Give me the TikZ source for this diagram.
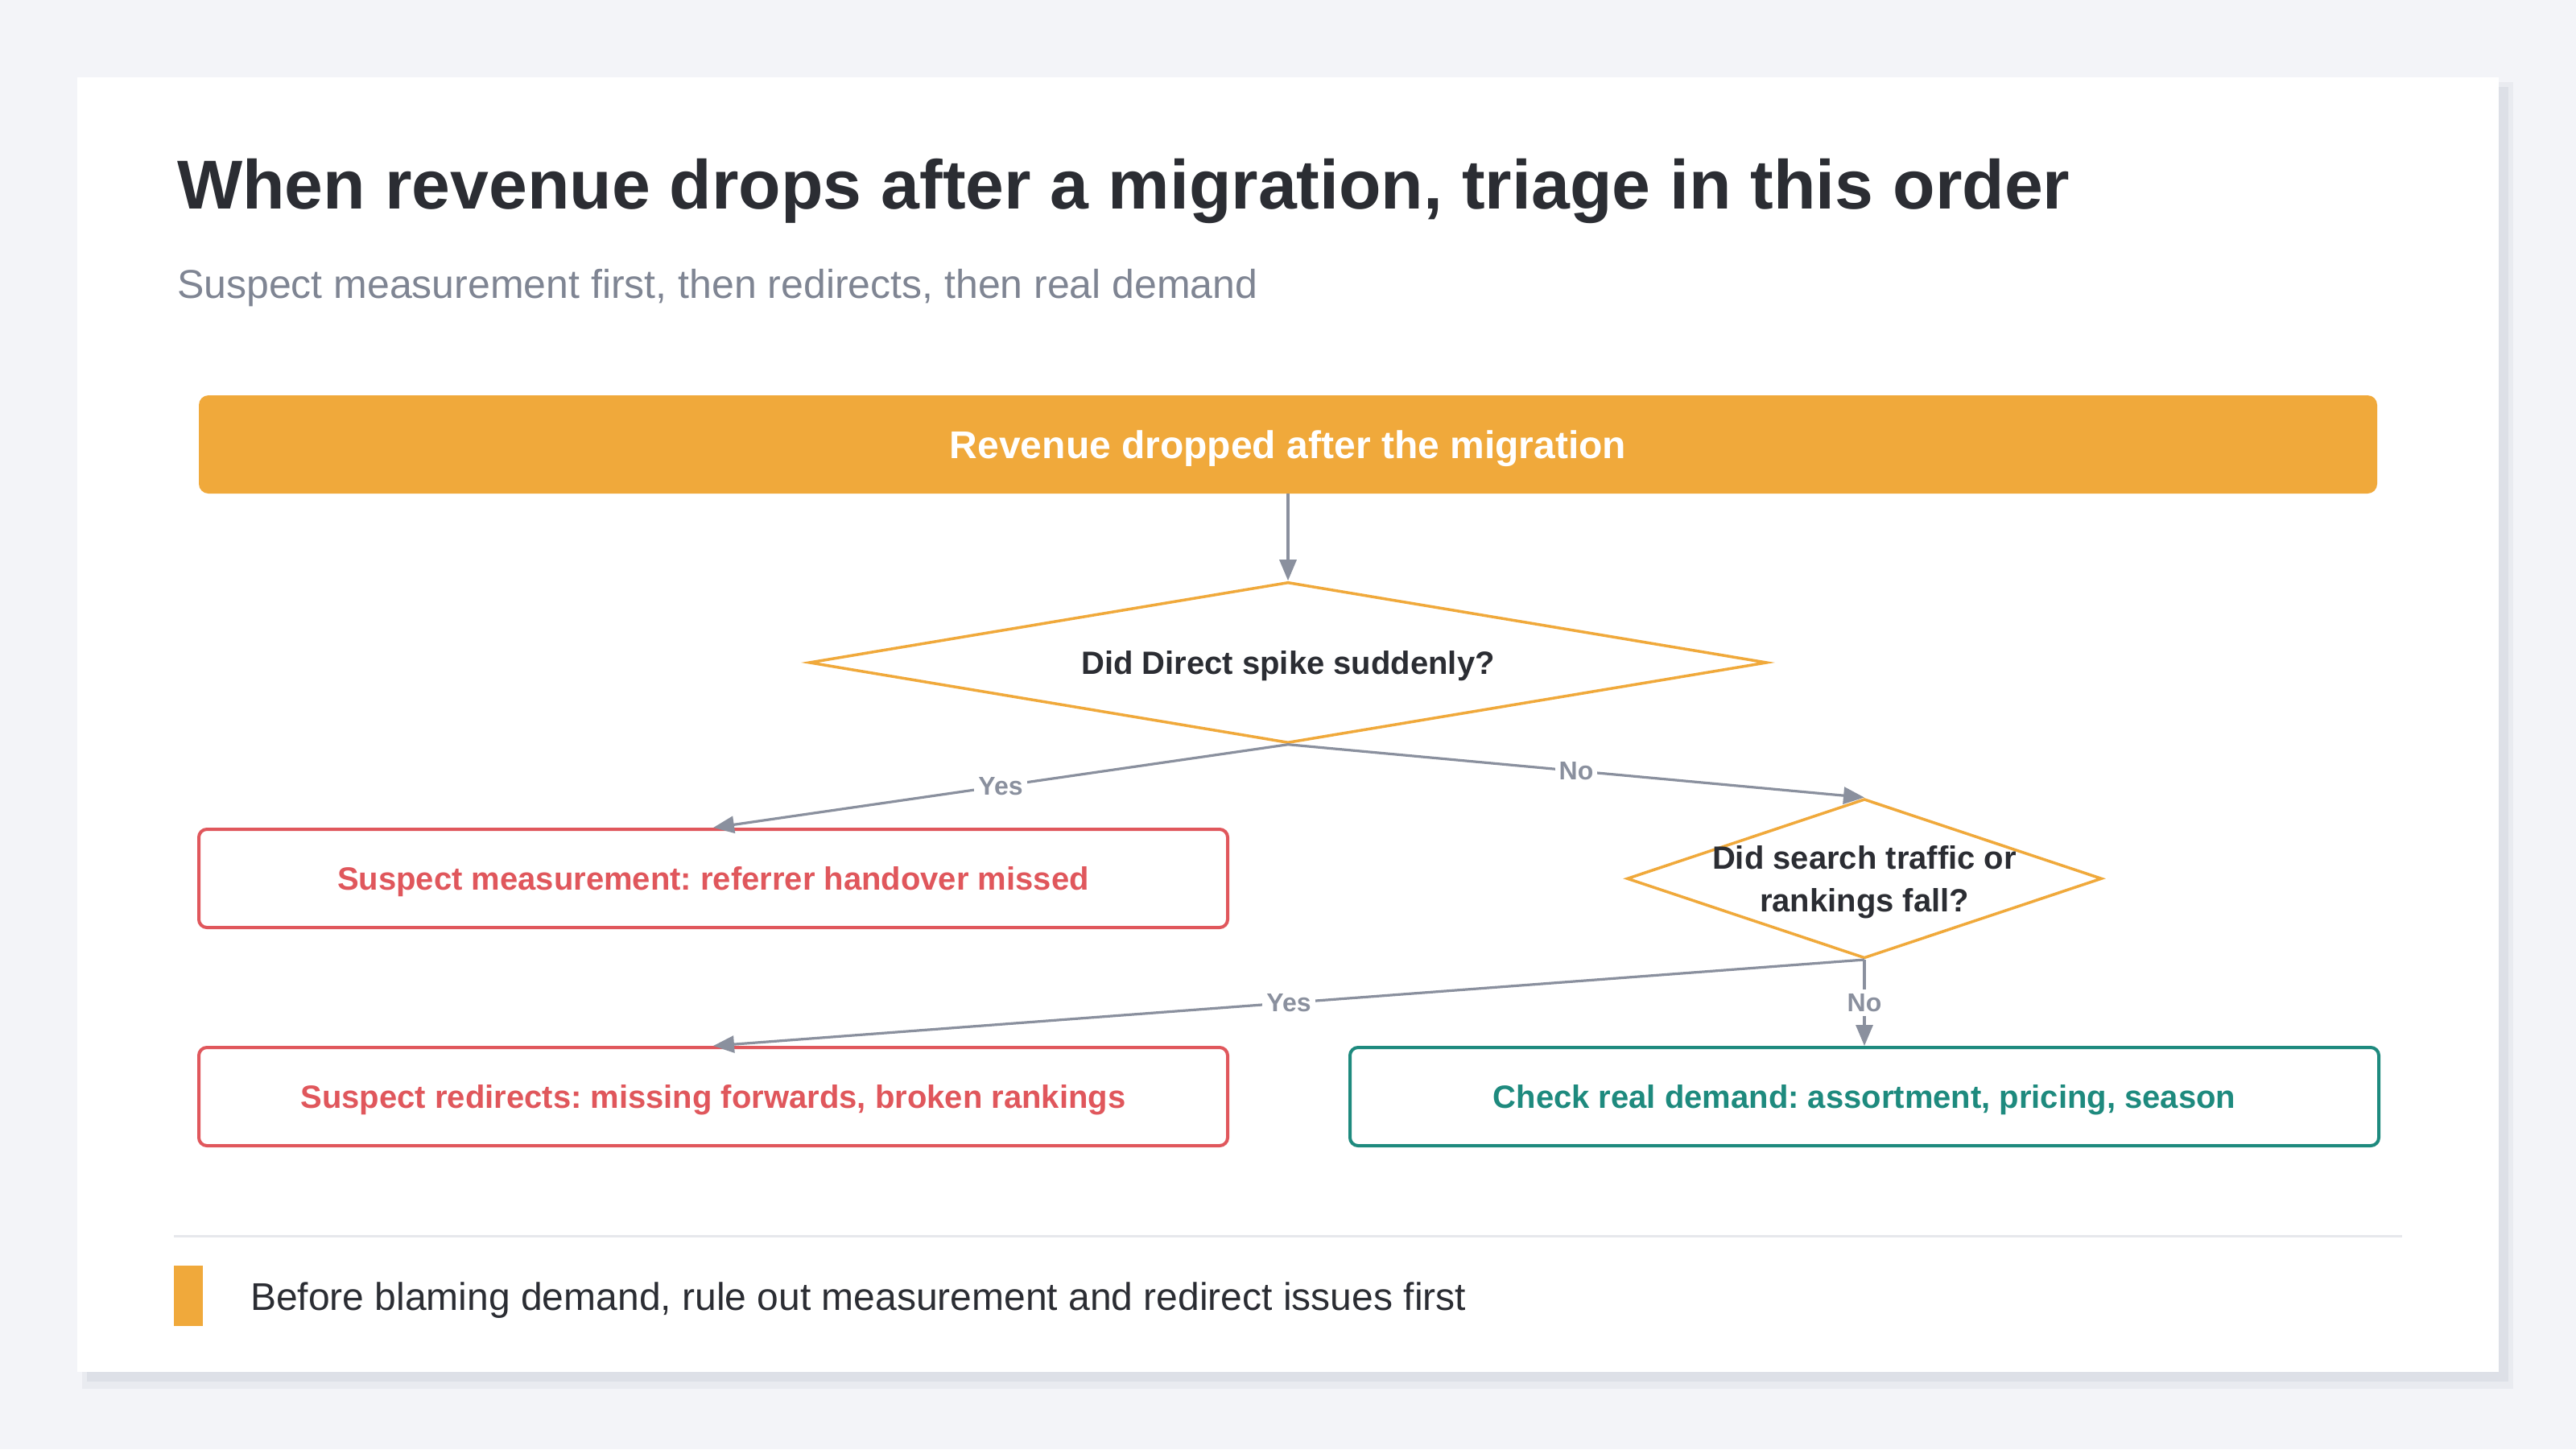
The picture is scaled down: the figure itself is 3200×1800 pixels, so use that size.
\documentclass[tikz,border=0pt]{standalone}
\usepackage{fontspec}
\setmainfont{Liberation Sans}
\usepackage{xcolor}
\usepackage{tikz}
\usetikzlibrary{arrows.meta, positioning, shapes.geometric}
\frenchspacing
\definecolor{pagebg}{HTML}{F3F4F8}
\definecolor{shadowin}{HTML}{DDE0E7}
\definecolor{shadowout}{HTML}{E9EBF0}
\definecolor{ink}{HTML}{2B2D33}
\definecolor{subgray}{HTML}{7F8593}
\definecolor{brandorange}{HTML}{F0A93B}
\definecolor{edgegray}{HTML}{8A909E}
\definecolor{warnred}{HTML}{E0575C}
\definecolor{okteal}{HTML}{1E8A7E}
\definecolor{sepline}{HTML}{E6E8EC}
\tikzset{
  box/.style={rectangle, rounded corners=10pt, draw=#1, line width=4pt,
              fill=white, text=#1, font=\fontsize{40}{48}\selectfont\bfseries,
              minimum width=1278pt, minimum height=122pt, inner sep=0pt,
              text depth=0pt, align=center},
  box/.default=warnred,
  decision/.style={diamond, draw=brandorange, line width=3.5pt, fill=white,
                   inner sep=0pt},
  qtext/.style={text=ink, font=\fontsize{40}{53}\selectfont\bfseries,
                text depth=0pt, align=center},
  arr/.style={-{Triangle[length=26pt, width=21pt]}, line width=3.2pt, edgegray},
  lbl/.style={fill=white, text=edgegray, font=\fontsize{32}{38}\selectfont\bfseries,
              inner sep=5pt},
}

\begin{document}
\begin{tikzpicture}[x=1pt, y=-1pt]
  %% Page and card
  \useasboundingbox[fill=pagebg] (0,0) rectangle (3200,1800);
  \fill[shadowout] (102,102) rectangle (3122,1725);
  \fill[shadowin]  (108,108) rectangle (3116,1716);
  \fill[white]     (96,96) rectangle (3104,1704);

  %% Heading
  \node[anchor=base west, inner sep=0pt, text=ink,
        font=\fontsize{86}{104}\selectfont\bfseries] (title) at (220,259)
        {When revenue drops after a migration, triage in this order};
  \node[anchor=base west, inner sep=0pt, text=subgray,
        font=\fontsize{50}{60}\selectfont] (subtitle) at (220,370)
        {Suspect measurement first, then redirects, then real demand};

  %% Flow
  \node[rectangle, rounded corners=12pt, fill=brandorange, text=white,
        font=\fontsize{48}{56}\selectfont\bfseries, text depth=0pt,
        minimum width=2706pt, minimum height=122pt] (start) at (1600,552)
        {Revenue dropped after the migration};
  \node[decision, minimum width=1190pt, minimum height=200pt,
        below=108pt of start] (q1) {};
  \node[qtext] at (q1.center) {Did Direct spike suddenly?};
  \node[box=warnred] (meas) at (886,1091)
        {Suspect measurement: referrer handover missed};
  \node[box=warnred, below=145pt of meas] (redir)
        {Suspect redirects: missing forwards, broken rankings};
  \node[box=okteal, right=148pt of redir] (demand)
        {Check real demand: assortment, pricing, season};
  \node[decision, minimum width=590pt, minimum height=198pt,
        above=107pt of demand] (q2) {};
  \node[qtext] at (q2.center) {Did search traffic or\\rankings fall?};

  \draw[arr] (start) -- (q1.north);
  \draw[arr] (q1.south) -- node[lbl] {Yes} (meas.north);
  \draw[arr] (q1.south) -- node[lbl] {No} (q2.north);
  \draw[arr] (q2.south) -- node[lbl] {Yes} (redir.north);
  \draw[arr] (q2.south) -- node[lbl] {No} (demand.north);

  %% Footer note
  \draw[sepline, line width=3pt] (216,1535) -- (2984,1535);
  \node[fill=brandorange, anchor=north west, inner sep=0pt,
        minimum width=36pt, minimum height=75pt] (bar) at (216,1572) {};
  \node[anchor=base west, inner sep=0pt, text=ink,
        font=\fontsize{48}{56}\selectfont] (note) at (311,1627)
        {Before blaming demand, rule out measurement and redirect issues first};
\end{tikzpicture}
\end{document}
